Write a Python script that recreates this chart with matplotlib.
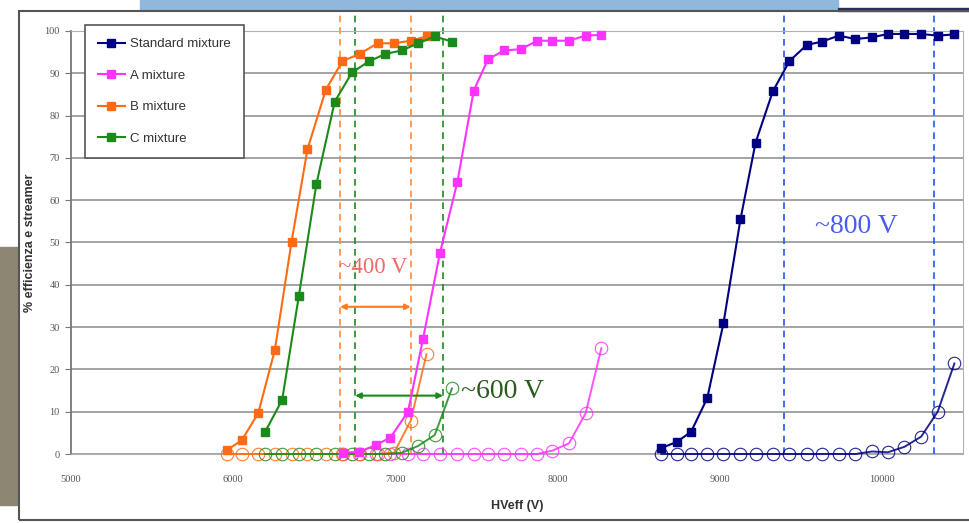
import matplotlib
matplotlib.use("Agg")
import matplotlib.pyplot as plt
from matplotlib.patches import Rectangle

# efficiency curves (filled squares) and streamer fractions (open circles)
std_hv = [8640, 8738, 8824, 8923, 9023, 9128, 9221, 9327, 9430, 9537,
          9631, 9734, 9837, 9940, 10036, 10139, 10242, 10344, 10447]
std_eff = [1.4, 2.9, 5.3, 13.2, 30.9, 55.5, 73.6, 85.7, 92.9, 96.7,
           97.5, 98.9, 98.1, 98.5, 99.3, 99.3, 99.3, 98.9, 99.2]
std_str = [0, 0, 0, 0, 0, 0, 0, 0, 0, 0,
           0, 0, 0, 0.6, 0.4, 1.7, 4.1, 10.0, 21.4]

a_hv = [6677, 6776, 6879, 6970, 7078, 7171, 7274, 7383, 7483, 7571,
        7670, 7773, 7875, 7968, 8070, 8173, 8270]
a_eff = [0.3, 0.5, 2.1, 3.9, 10.0, 27.3, 47.4, 64.4, 85.9, 93.3,
         95.4, 95.7, 97.7, 97.7, 97.7, 98.9, 99.1]
a_str = [0, 0, 0, 0, 0, 0, 0, 0, 0, 0,
         0, 0, 0, 0.8, 2.5, 9.6, 25.0]

b_hv = [5959, 6052, 6154, 6257, 6360, 6458, 6571, 6674, 6781, 6890,
        6992, 7095, 7192]
b_eff = [0.9, 3.2, 9.6, 24.6, 50.2, 72.0, 86.1, 92.9, 94.6, 97.1,
         97.1, 97.7, 98.7]
b_str = [0, 0, 0, 0, 0, 0, 0, 0, 0, 0, 0.3, 7.9, 23.6]

c_hv = [6195, 6302, 6405, 6513, 6626, 6733, 6836, 6939, 7041, 7140,
        7243, 7349]
c_eff = [5.1, 12.8, 37.4, 63.8, 83.3, 90.2, 92.8, 94.6, 95.4, 97.1,
         98.7, 97.5]
c_str = [0, 0, 0, 0, 0, 0, 0, 0, 0.3, 1.9, 4.5, 15.5]

labels = ["Standard mixture", "A mixture", "B mixture", "C mixture"]
colors = ["#000080", "#ff33ff", "#ff6a13", "#1b8a1b"]

# plateau markers drawn on the slide
b_lines = [6659, 7095]
c_lines = [6752, 7294]
std_lines = [9395, 10320]

W, H = 970, 523
fig = plt.figure(figsize=(W / 100, H / 100), dpi=100)

# slide decorations around the chart
fig.patches.append(Rectangle((140 / W, 1 - 9 / H), 698 / W, 9 / H,
                             transform=fig.transFigure, color="#8fb8dc", zorder=0))
fig.patches.append(Rectangle((838 / W, 1 - 11 / H), 132 / W, 3 / H,
                             transform=fig.transFigure, color="#2a2f5a", zorder=0))
fig.patches.append(Rectangle((0, 1 - 505 / H), 17 / W, 258 / H,
                             transform=fig.transFigure, color="#8c8672", zorder=0))
fig.patches.append(Rectangle((19 / W, 1 - 520 / H), 960 / W, 509 / H,
                             transform=fig.transFigure, fill=False,
                             ec="#555555", lw=1.5, zorder=1))

ax = fig.add_axes([71 / W, 1 - 454 / H, (963 - 71) / W, (454 - 31) / H])
ax.set_xlim(5000, 10500)
ax.set_ylim(0, 100)

series = [(std_hv, std_eff, std_str), (a_hv, a_eff, a_str),
          (b_hv, b_eff, b_str), (c_hv, c_eff, c_str)]
for (hv, eff, st), lab, col in zip(series, labels, colors):
    ax.plot(hv, st, color=col, lw=1.4, marker="o", ms=9, mfc="none",
            mec=col, mew=0.8, alpha=0.85, clip_on=False, zorder=3)
for (hv, eff, st), lab, col in zip(series, labels, colors):
    ax.plot(hv, eff, color=col, lw=1.5, marker="s", ms=5.5, label=lab,
            clip_on=False, zorder=4)

dash = (0, (4, 3))
for x in b_lines:
    ax.plot([x, x], [0, 104.5], color="#ff8c3a", lw=1.2, ls=dash, clip_on=False, zorder=2)
for x in c_lines:
    ax.plot([x, x], [0, 104.5], color="#1b8a1b", lw=1.2, ls=dash, clip_on=False, zorder=2)
for x in std_lines:
    ax.plot([x, x], [0, 104.5], color="#2255ee", lw=1.2, ls=dash, clip_on=False, zorder=2)

ax.annotate("", xy=(b_lines[1], 34.8), xytext=(b_lines[0], 34.8),
            arrowprops=dict(arrowstyle="<|-|>", color="#ff7a20", lw=1.5,
                            mutation_scale=8, shrinkA=0, shrinkB=0))
ax.annotate("", xy=(c_lines[1], 13.8), xytext=(c_lines[0], 13.8),
            arrowprops=dict(arrowstyle="<|-|>", color="#1b8a1b", lw=1.5,
                            mutation_scale=8, shrinkA=0, shrinkB=0))

serif = "Liberation Serif"
ax.text(6651, 44, "~400 V", color="#f06a6a", fontsize=16.5, family=serif,
        ha="left", va="center")
ax.text(7403, 14.7, "~600 V", color="#2b5a1e", fontsize=20, family=serif,
        ha="left", va="center")
ax.text(9590, 53.7, "~800 V", color="#4a5cf0", fontsize=20, family=serif,
        ha="left", va="center")

ax.set_yticks(range(0, 101, 10))
ax.set_xticks(range(5000, 10001, 1000))
ax.grid(axis="y", color="#8a8a8a", lw=1.1, zorder=0)
ax.set_axisbelow(True)
for s in ["top", "right", "bottom"]:
    ax.spines[s].set_color("#b0b0b0")
ax.spines["left"].set_color("#777777")
ax.spines["left"].set_linewidth(1.3)
ax.tick_params(axis="y", length=4, color="#777777", labelsize=7.5,
               labelcolor="#555555", pad=4)
ax.tick_params(axis="x", length=0, labelsize=7.5, labelcolor="#555555", pad=15)
for t in ax.get_xticklabels() + ax.get_yticklabels():
    t.set_family(serif)

ax.set_xlabel("HVeff (V)", fontsize=9, fontweight="bold", family="Liberation Sans",
              color="#333333", labelpad=12)
ax.set_ylabel("% efficienza e streamer", fontsize=9, fontweight="bold",
              family="Liberation Sans", color="#333333")
ax.yaxis.set_label_coords(-0.039, 0.5)

leg = ax.legend(loc="upper left", bbox_to_anchor=(85 / W, 1 - 25 / H),
                bbox_transform=fig.transFigure, borderaxespad=0,
                fancybox=False, framealpha=1, edgecolor="#555555",
                labelspacing=1.45, handlelength=2.0, handletextpad=0.4,
                borderpad=1.0, prop={"family": "Liberation Sans", "size": 9.5})
leg.get_frame().set_linewidth(1.2)
leg.set_zorder(10)
for t in leg.get_texts():
    t.set_color("#333333")

fig.savefig("out.png", dpi=100)
